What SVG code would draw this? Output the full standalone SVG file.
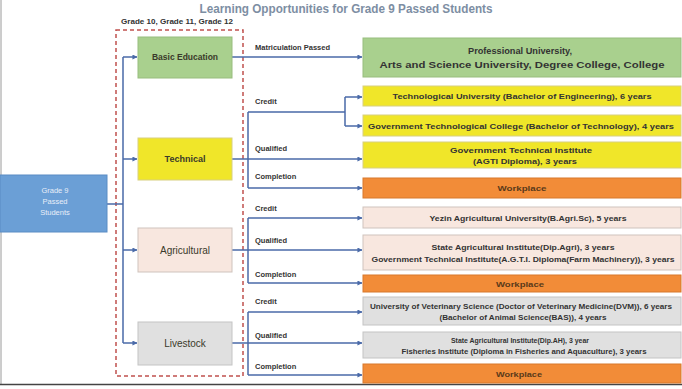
<svg xmlns="http://www.w3.org/2000/svg" width="682" height="389" viewBox="0 0 682 389">
<defs>
<marker id="ah" viewBox="0 0 6 6" refX="5.5" refY="3" markerWidth="5" markerHeight="5" orient="auto" markerUnits="userSpaceOnUse">
<path d="M0,0 L6,3 L0,6 z" fill="#4a6aa8"/>
</marker>
</defs>
<style>
text{font-family:"Liberation Sans",Arial,sans-serif;font-weight:bold;}
.t{font-size:8px;fill:#333;text-anchor:middle;}
.lb{font-size:7.5px;fill:#333;}
.ln{stroke:#4a6aa8;stroke-width:1.5;fill:none;}
.ar{marker-end:url(#ah);}
.grn{fill:#a9d08e;stroke:#98bd7e;stroke-width:1;}
.yel{fill:#f0e629;stroke:#d8d080;stroke-width:1;}
.org{fill:#f28c38;stroke:#d7792c;stroke-width:1;}
.pnk{fill:#f8e7df;stroke:#cfc3bd;stroke-width:1;}
.gry{fill:#e0e0e0;stroke:#c4c4c4;stroke-width:1;}
.lt{font-size:8.5px;fill:#3a3a2a;text-anchor:middle;}
.wp{fill:#5a3a1a;}
</style>
<rect x="0" y="0" width="682" height="389" fill="#ffffff"/>
<line x1="1" y1="0" x2="1" y2="384" stroke="#9a9a9a" stroke-width="1"/>
<line x1="0" y1="384.5" x2="682" y2="384.5" stroke="#444" stroke-width="1.5"/>

<text x="346" y="13" fill="#7d8ea3" text-anchor="middle" style="font-size:12px" textLength="293" lengthAdjust="spacingAndGlyphs">Learning Opportunities for Grade 9 Passed Students</text>
<text x="121" y="24" style="font-size:7.5px" fill="#333" textLength="112" lengthAdjust="spacingAndGlyphs">Grade 10, Grade 11, Grade 12</text>

<rect id="grade-frame" x="116" y="30" width="127" height="346" fill="none" stroke="#c0504d" stroke-width="1.5" stroke-dasharray="4,3"/>

<g id="connectors">
<path class="ln" d="M107,204 H123 M123,57 V343"/>
<path class="ln ar" d="M123,57 H137"/>
<path class="ln ar" d="M123,159 H137"/>
<path class="ln ar" d="M123,250 H137"/>
<path class="ln ar" d="M123,343 H137"/>
<path class="ln ar" d="M232,57 H362"/>
<path class="ln ar" d="M232,159 H362"/>
<path class="ln" d="M248,112 V188 M248,112 H345 M345,97 V126"/>
<path class="ln ar" d="M345,97 H362"/>
<path class="ln ar" d="M345,126 H362"/>
<path class="ln ar" d="M248,188 H362"/>
<path class="ln ar" d="M232,250 H362"/>
<path class="ln" d="M248,218 V283"/>
<path class="ln ar" d="M248,218 H362"/>
<path class="ln ar" d="M248,283 H362"/>
<path class="ln ar" d="M232,343 H362"/>
<path class="ln" d="M248,312 V375"/>
<path class="ln ar" d="M248,312 H362"/>
<path class="ln ar" d="M248,375 H362"/>
</g>

<g id="labels">
<text class="lb" x="255" y="50">Matriculation Passed</text>
<text class="lb" x="255" y="104">Credit</text>
<text class="lb" x="255" y="151">Qualified</text>
<text class="lb" x="255" y="179">Completion</text>
<text class="lb" x="255" y="211">Credit</text>
<text class="lb" x="255" y="243">Qualified</text>
<text class="lb" x="255" y="277">Completion</text>
<text class="lb" x="255" y="304">Credit</text>
<text class="lb" x="255" y="338">Qualified</text>
<text class="lb" x="255" y="369">Completion</text>
</g>

<g id="grade9">
<rect x="0" y="175" width="107" height="57" fill="#6b9fd6" stroke="#5a8cc4" stroke-width="1"/>
<text x="55" y="193" style="font-size:7.5px;font-weight:normal" fill="#e8eef8" text-anchor="middle">Grade 9</text>
<text x="55" y="204" style="font-size:7.5px;font-weight:normal" fill="#e8eef8" text-anchor="middle">Passed</text>
<text x="55" y="215" style="font-size:7.5px;font-weight:normal" fill="#e8eef8" text-anchor="middle">Students</text>
</g>

<g id="basic-education">
<rect class="grn" x="138" y="37" width="94" height="41"/>
<text class="lt" x="185" y="60">Basic Education</text>
</g>
<g id="technical">
<rect class="yel" x="138" y="138" width="94" height="42"/>
<text class="lt" x="185" y="162" style="font-size:9px">Technical</text>
</g>
<g id="agricultural">
<rect class="pnk" x="138" y="228" width="94" height="44"/>
<text class="lt" x="185" y="254" style="font-weight:normal;font-size:10px">Agricultural</text>
</g>
<g id="livestock">
<rect class="gry" x="138" y="322" width="94" height="43"/>
<text class="lt" x="185" y="347" style="font-weight:normal;font-size:10px">Livestock</text>
</g>

<g id="professional">
<rect class="grn" x="363" y="38" width="318" height="39"/>
<text class="t" x="520" y="54" style="font-size:8.5px" textLength="104" lengthAdjust="spacingAndGlyphs">Professional University,</text>
<text class="t" x="522" y="68" style="font-size:9px" textLength="285" lengthAdjust="spacingAndGlyphs">Arts and Science University, Degree College, College</text>
</g>
<g id="tech-university">
<rect class="yel" x="363" y="86" width="318" height="20"/>
<text class="t" x="522" y="99" textLength="259" lengthAdjust="spacingAndGlyphs">Technological University (Bachelor of Engineering), 6 years</text>
</g>
<g id="gov-tech-college">
<rect class="yel" x="363" y="115" width="318" height="21"/>
<text class="t" x="521" y="128.5" textLength="306" lengthAdjust="spacingAndGlyphs">Government Technological College (Bachelor of Technology), 4 years</text>
</g>
<g id="gov-tech-institute">
<rect class="yel" x="363" y="142" width="318" height="26"/>
<text class="t" x="521" y="152.5" textLength="142" lengthAdjust="spacingAndGlyphs">Government Technical Institute</text>
<text class="t" x="525" y="163.5" textLength="104" lengthAdjust="spacingAndGlyphs">(AGTI Diploma), 3 years</text>
</g>
<g id="workplace-technical">
<rect class="org" x="363" y="178" width="318" height="20"/>
<text class="t wp" x="522" y="191" textLength="49" lengthAdjust="spacingAndGlyphs">Workplace</text>
</g>
<g id="yezin">
<rect class="pnk" x="363" y="207" width="318" height="21"/>
<text class="t" x="528" y="220.5" textLength="197" lengthAdjust="spacingAndGlyphs">Yezin Agricultural University(B.Agri.Sc), 5 years</text>
</g>
<g id="state-agri">
<rect class="pnk" x="363" y="235" width="318" height="35"/>
<text class="t" x="523" y="249.5" textLength="183" lengthAdjust="spacingAndGlyphs">State Agricultural Institute(Dip.Agri),  3 years</text>
<text class="t" x="523" y="262" textLength="303" lengthAdjust="spacingAndGlyphs">Government Technical Institute(A.G.T.I. Diploma(Farm Machinery)), 3 years</text>
</g>
<g id="workplace-agricultural">
<rect class="org" x="363" y="275" width="318" height="17"/>
<text class="t wp" x="520" y="286.5" textLength="48" lengthAdjust="spacingAndGlyphs">Workplace</text>
</g>
<g id="veterinary">
<rect class="gry" x="363" y="297" width="318" height="28"/>
<text class="t" x="521" y="308.5" style="font-size:7.5px" textLength="302" lengthAdjust="spacingAndGlyphs">University of Veterinary Science (Doctor of Veterinary Medicine(DVM)), 6 years</text>
<text class="t" x="523" y="320" style="font-size:7.5px" textLength="167" lengthAdjust="spacingAndGlyphs">(Bachelor of Animal Science(BAS)), 4 years</text>
</g>
<g id="state-ah">
<rect class="gry" x="363" y="332" width="318" height="26"/>
<text class="t" x="520" y="342.5" style="font-size:7px" textLength="138" lengthAdjust="spacingAndGlyphs">State Agricultural Institute(Dip.AH), 3 year</text>
<text class="t" x="524" y="354" style="font-size:7.5px" textLength="245" lengthAdjust="spacingAndGlyphs">Fisheries Institute (Diploma in Fisheries and Aquaculture), 3 years</text>
</g>
<g id="workplace-livestock">
<rect class="org" x="363" y="364" width="318" height="19"/>
<text class="t wp" x="519" y="376.5" textLength="46" lengthAdjust="spacingAndGlyphs">Workplace</text>
</g>
</svg>
